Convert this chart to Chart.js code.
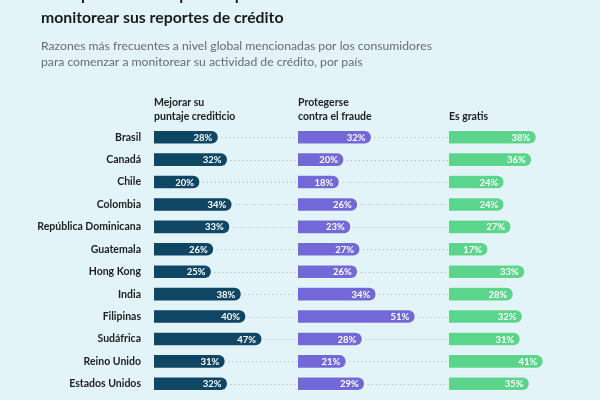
<!DOCTYPE html>
<html>
<head>
<meta charset="utf-8">
<script src="https://cdn.jsdelivr.net/npm/chart.js@4"></script>
<style>
  html, body { margin: 0; padding: 0; background: #e3f4f9; }
  #wrap { width: 600px; height: 400px; position: relative; }
</style>
</head>
<body>
<div id="wrap"><canvas id="c"></canvas></div>
<script>
const titleLines = ['Principales razones por las que consumidores comienzan a', 'monitorear sus reportes de crédito'];
const subtitleLines = ['Razones más frecuentes a nivel global mencionadas por los consumidores', 'para comenzar a monitorear su actividad de crédito, por país'];
const categories = ['Brasil', 'Canadá', 'Chile', 'Colombia', 'República Dominicana', 'Guatemala', 'Hong Kong', 'India', 'Filipinas', 'Sudáfrica', 'Reino Unido', 'Estados Unidos'];
const seriesNames = [['Mejorar su', 'puntaje crediticio'], ['Protegerse', 'contra el fraude'], ['Es gratis']];
const puntaje = [28, 32, 20, 34, 33, 26, 25, 38, 40, 47, 31, 32];
const fraude = [32, 20, 18, 26, 23, 27, 26, 34, 51, 28, 21, 29];
const gratis = [38, 36, 24, 24, 27, 17, 33, 28, 32, 31, 41, 35];

const FONT = 'Lato, "Open Sans", sans-serif';
const colors = ['#0e4664', '#7268d8', '#5bd58b'];
const borders = ['rgba(255,255,255,0.15)', 'rgba(255,255,255,0.35)', 'rgba(255,255,255,0.35)'];
const colWidths = [144, 151, 151];
const PX_PER_PCT = 2.3;

const dotPlugin = {
  id: 'dots',
  beforeDatasetsDraw(chart) {
    const ctx = chart.ctx;
    const ys = chart.scales.y;
    const ids = ['x1', 'x2', 'x3'];
    const all = [puntaje, fraude, gratis];
    ctx.save();
    ctx.strokeStyle = '#a3b3bc';
    ctx.lineWidth = 1;
    ctx.setLineDash([1, 3]);
    for (let c = 0; c < 2; c++) {
      const sx = chart.scales[ids[c]];
      const nx = chart.scales[ids[c + 1]];
      all[c].forEach((v, i) => {
        const y = Math.round(ys.getPixelForValue(i)) + 0.5;
        ctx.beginPath();
        ctx.moveTo(sx.getPixelForValue(v) + 3, y);
        ctx.lineTo(nx.left - 1, y);
        ctx.stroke();
      });
    }
    ctx.restore();
  }
};

const labelPlugin = {
  id: 'vlabels',
  afterDatasetsDraw(chart) {
    const ctx = chart.ctx;
    ctx.save();
    ctx.fillStyle = '#ffffff';
    ctx.font = 'bold 9.5px ' + FONT;
    ctx.textAlign = 'right';
    ctx.textBaseline = 'middle';
    chart.data.datasets.forEach((ds, di) => {
      const meta = chart.getDatasetMeta(di);
      meta.data.forEach((bar, i) => {
        ctx.fillText(ds.data[i] + '%', bar.x - 6, bar.y + 0.5);
      });
    });
    ctx.restore();
  }
};

function xAxis(idx, extraTop) {
  return {
    type: 'linear',
    position: 'top',
    stack: 'cols',
    stackWeight: colWidths[idx],
    weight: 3 - idx,
    min: 0,
    max: colWidths[idx] / PX_PER_PCT,
    grid: { display: false, drawTicks: false },
    border: { display: false },
    ticks: { display: false },
    title: {
      display: true,
      text: seriesNames[idx],
      align: 'start',
      color: '#1e1e1e',
      font: { family: FONT, size: 10.5, weight: 'bold', lineHeight: 14 / 10.5 },
      padding: { top: 26 + extraTop, bottom: 2 }
    }
  };
}

const ids = ['x1', 'x2', 'x3'];
const seriesData = [puntaje, fraude, gratis];
new Chart(document.getElementById('c'), {
  type: 'bar',
  data: {
    labels: categories,
    datasets: seriesData.map((d, i) => ({
      label: seriesNames[i].join(' '),
      data: d,
      xAxisID: ids[i],
      yAxisID: 'y',
      backgroundColor: colors[i],
      borderColor: borders[i],
      borderWidth: 1,
      borderSkipped: 'start',
      borderRadius: 8,
      barThickness: 14,
      grouped: false
    }))
  },
  options: {
    indexAxis: 'y',
    responsive: true,
    maintainAspectRatio: false,
    animation: false,
    layout: { padding: { left: 41, right: 0, top: 0, bottom: 5 } },
    plugins: {
      legend: { display: false },
      tooltip: { enabled: false },
      title: {
        display: true,
        text: titleLines,
        align: 'start',
        color: '#1b1b1b',
        font: { family: FONT, size: 15.8, weight: 'bold', lineHeight: 22.5 / 15.8 },
        padding: { top: -16, bottom: 0 }
      },
      subtitle: {
        display: true,
        text: subtitleLines,
        align: 'start',
        color: '#6a6a6a',
        font: { family: FONT, size: 12.2, weight: 'normal', lineHeight: 16 / 12.2 },
        padding: { top: 9, bottom: 0 }
      }
    },
    scales: {
      x1: xAxis(0, 0),
      x2: xAxis(1, 0),
      x3: xAxis(2, 14),
      y: {
        type: 'category',
        position: 'left',
        afterFit(scale) {
          scale.width = 113;
          scale.paddingTop = 0;
          scale.paddingBottom = 0;
          scale._computeLabelArea = () => null;
        },
        grid: { display: false, drawTicks: false },
        border: { display: false },
        ticks: {
          padding: 13,
          color: '#1e1e1e',
          font: { family: FONT, size: 10.5, weight: 'bold' },
          autoSkip: false
        }
      }
    }
  },
  plugins: [dotPlugin, labelPlugin]
});
</script>
</body>
</html>
